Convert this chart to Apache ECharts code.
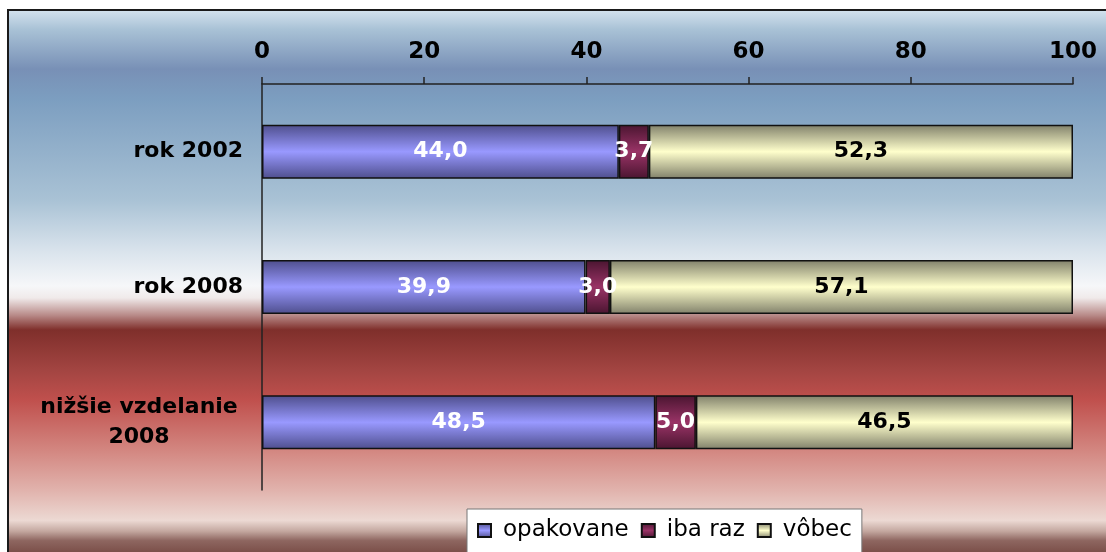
<!DOCTYPE html>
<html><head><meta charset="utf-8">
<script src="https://cdn.jsdelivr.net/npm/echarts@6/dist/echarts.min.js"></script>
<style>html,body{margin:0;padding:0;background:#fff}#c{width:1106px;height:552px}</style>
</head><body><div id="c"></div>
<script>
const categories = ['rok 2002', 'rok 2008', 'nižšie vzdelanie\n2008'];
const seriesNames = ['opakovane', 'iba raz', 'vôbec'];
const opakovane = [44.0, 39.9, 48.5];
const ibaRaz = [3.7, 3.0, 5.0];
const vobec = [52.3, 57.1, 46.5];
const axisTicks = [0, 20, 40, 60, 80, 100];

const FONT = 'DejaVu Sans, Verdana, sans-serif';
function grad(edge, mid) {
  return new echarts.graphic.LinearGradient(0, 0, 0, 1, [
    {offset: 0, color: edge}, {offset: 0.5, color: mid}, {offset: 1, color: edge}
  ]);
}
const fmt = p => p.value.toFixed(1).replace('.', ',');
const chart = echarts.init(document.getElementById('c'), null, {renderer: 'canvas'});
const labelBase = {show: true, position: 'inside', formatter: fmt, fontFamily: FONT, fontWeight: 'bold', fontSize: 22};
chart.setOption({
  animation: false,
  graphic: [{
    type: 'rect', z: -10, silent: true,
    shape: {x: 8, y: 10, width: 1200, height: 560},
    style: {
      stroke: '#1a1a1a', lineWidth: 2,
      fill: new echarts.graphic.LinearGradient(0, 0, 0, 1, [
        {offset: 0, color: '#d6e4ef'},
        {offset: 0.036, color: '#a9c2d6'},
        {offset: 0.107, color: '#7890b6'},
        {offset: 0.16, color: '#7c9ec0'},
        {offset: 0.34, color: '#a9c2d5'},
        {offset: 0.43, color: '#d9e3ec'},
        {offset: 0.493, color: '#f6f7f9'},
        {offset: 0.514, color: '#f0eaea'},
        {offset: 0.545, color: '#b88a88'},
        {offset: 0.571, color: '#7f2f2b'},
        {offset: 0.643, color: '#a34542'},
        {offset: 0.696, color: '#c0504d'},
        {offset: 0.786, color: '#d38781'},
        {offset: 0.857, color: '#e1b3ad'},
        {offset: 0.91, color: '#ecd9d3'},
        {offset: 0.929, color: '#c4a8a0'},
        {offset: 0.946, color: '#8e6660'},
        {offset: 0.968, color: '#7a4e48'},
        {offset: 1, color: '#7a4e48'}
      ])
    }
  }],
  grid: {left: 262, right: 33, top: 84, bottom: 62, containLabel: false},
  legend: {
    top: 509, left: 467,
    data: seriesNames,
    backgroundColor: '#ffffff', borderColor: '#777', borderWidth: 1,
    padding: [10, 10, 30, 10], itemGap: 12, itemWidth: 13, itemHeight: 13,
    textStyle: {fontFamily: FONT, fontSize: 23, color: '#000', padding: [0, 0, 0, 7]},
    icon: 'rect'
  },
  xAxis: {
    type: 'value', position: 'top', min: 0, max: 100, interval: 20,
    axisLine: {show: true, lineStyle: {color: '#222', width: 1.5}},
    axisTick: {show: true, length: 7, lineStyle: {color: '#222', width: 1.5}},
    splitLine: {show: false},
    axisLabel: {fontFamily: FONT, fontWeight: 'bold', fontSize: 23, color: '#000', margin: 20,
      formatter: v => axisTicks.includes(v) ? String(v) : ''}
  },
  yAxis: {
    type: 'category', data: categories, inverse: true,
    axisLine: {show: true, lineStyle: {color: '#222', width: 1.5}},
    axisTick: {show: false},
    axisLabel: {fontFamily: FONT, fontWeight: 'bold', fontSize: 22, color: '#000', margin: 19, align: 'right',
      formatter: v => v.indexOf('\n') >= 0 ? v.split('\n').map(s => '{c|' + s + '}').join('\n') : v,
      rich: {c: {fontFamily: FONT, fontWeight: 'bold', fontSize: 22, color: '#000', width: 208, align: 'center', lineHeight: 30}}
    }
  },
  series: [
    {name: seriesNames[0], type: 'bar', stack: 't', data: opakovane, barWidth: 54,
      itemStyle: {color: grad('#4e4e8c', '#9999ff'), borderColor: '#111', borderWidth: 1.5},
      label: Object.assign({}, labelBase, {color: '#fff'})},
    {name: seriesNames[1], type: 'bar', stack: 't', data: ibaRaz, barWidth: 54,
      itemStyle: {color: grad('#4a1530', '#993366'), borderColor: '#111', borderWidth: 1.5},
      label: Object.assign({}, labelBase, {color: '#fff'})},
    {name: seriesNames[2], type: 'bar', stack: 't', data: vobec, barWidth: 54,
      itemStyle: {color: grad('#80806a', '#ffffcc'), borderColor: '#111', borderWidth: 1.5},
      label: Object.assign({}, labelBase, {color: '#000'})}
  ]
});
</script></body></html>
